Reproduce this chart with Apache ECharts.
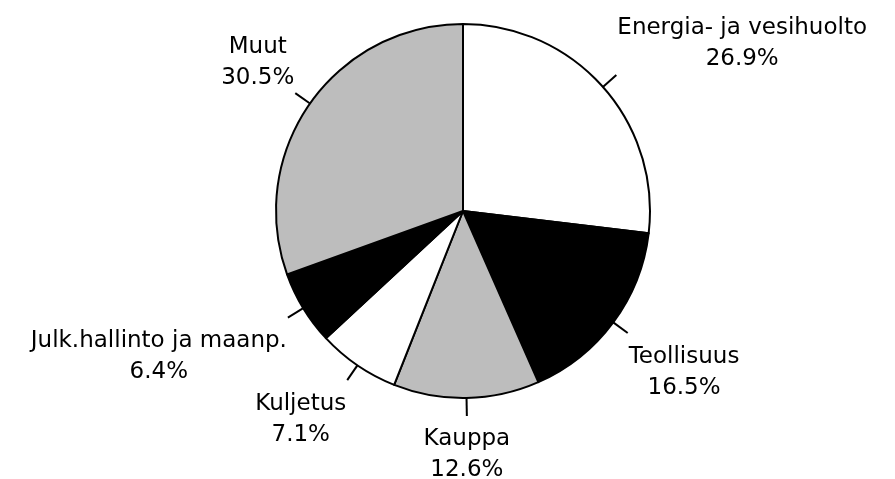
<!DOCTYPE html>
<html>
<head>
<meta charset="utf-8">
<script src="https://cdn.jsdelivr.net/npm/echarts@6/dist/echarts.min.js"></script>
<style>
html,body{margin:0;padding:0;background:#fff;}
#chart{width:895px;height:479px;}
</style>
</head>
<body>
<div id="chart"></div>
<script>
const categories = ['Energia- ja vesihuolto', 'Teollisuus', 'Kauppa', 'Kuljetus', 'Julk.hallinto ja maanp.', 'Muut'];
const values = [26.9, 16.5, 12.6, 7.1, 6.4, 30.5];
const fills = ['#ffffff', '#000000', '#bdbdbd', '#ffffff', '#000000', '#bdbdbd'];

const chart = echarts.init(document.getElementById('chart'), null, {renderer: 'canvas'});
const GAP_UP = 0, GAP_DOWN = 8, GAP_X = 1;
chart.setOption({
  backgroundColor: '#ffffff',
  animation: false,
  series: [{
    type: 'pie',
    center: [463, 211],
    radius: [0, 187],
    startAngle: 90,
    clockwise: true,
    avoidLabelOverlap: false,
    itemStyle: { borderColor: '#000', borderWidth: 2 },
    emphasis: { disabled: true },
    label: {
      show: true,
      position: 'outside',
      formatter: p => p.name + '\n' + p.value.toFixed(1) + '%',
      fontFamily: 'DejaVu Sans',
      fontSize: 23,
      lineHeight: 31,
      color: '#000',
      align: 'center'
    },
    labelLine: {
      show: true,
      length: 18,
      length2: 0,
      smooth: false,
      lineStyle: { color: '#000', width: 2 }
    },
    labelLayout: function (params) {
      const pts = params.labelLinePoints;
      if (!pts) return {};
      const s = pts[0], e = pts[pts.length - 1];
      const dx = e[0] - s[0], dy = e[1] - s[1];
      const len = Math.sqrt(dx * dx + dy * dy) || 1;
      const ux = dx / len, uy = dy / len;
      const w = params.labelRect.width, h = params.labelRect.height;
      let cx;
      if (Math.abs(ux) < 0.3) cx = e[0];
      else cx = e[0] + Math.sign(ux) * (w / 2 + GAP_X);
      const cy = uy < 0 ? e[1] - (h / 2 + GAP_UP) : e[1] + (h / 2 + GAP_DOWN);
      return { x: cx, y: cy, align: 'center', verticalAlign: 'middle', labelLinePoints: pts };
    },
    data: categories.map((c, i) => ({ name: c, value: values[i], itemStyle: { color: fills[i] } }))
  }]
});
</script>
</body>
</html>
